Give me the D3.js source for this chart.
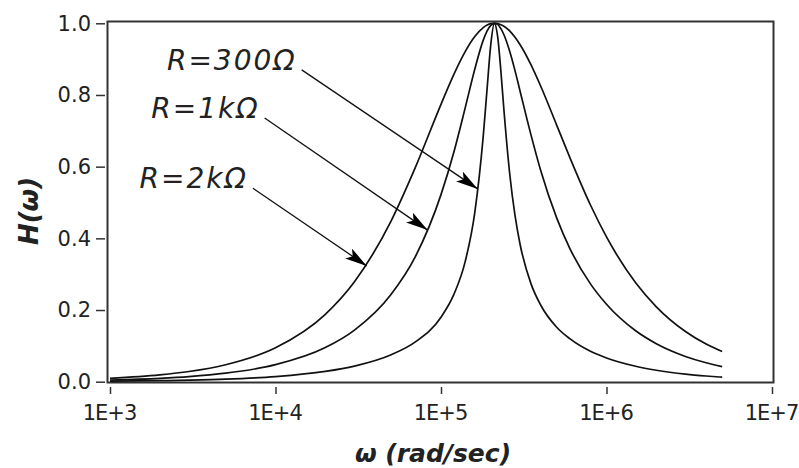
<!DOCTYPE html>
<html>
<head>
<meta charset="utf-8">
<script src="https://cdn.jsdelivr.net/npm/d3@7"></script>
<style>
  body { margin: 0; background: #fff; }
  svg { display: block; }
  text { font-family: "DejaVu Sans", Verdana, sans-serif; fill: #222; }
</style>
</head>
<body>
<div class="container"></div>
<script>
const omega = [1e3, 2e3, 3e3, 5e3, 1e4, 2e4, 3e4, 5e4, 7e4, 1e5, 1.2e5, 1.4e5, 1.6e5, 1.8e5, 1.9e5, 2e5, 2.1e5,
    2.2e5, 2.3e5, 2.4e5, 2.6e5, 2.8e5, 3e5, 3.5e5, 4e5, 5e5, 6e5, 8e5, 1e6, 1.5e6, 2e6, 3e6, 4e6, 5e6];

// H(w) for each resistor
const h2k = [0.0095, 0.019, 0.0284, 0.0474, 0.0946, 0.188, 0.279, 0.449, 0.598, 0.774, 0.859, 0.921, 0.963, 0.988, 0.995, 0.999, 1.0,
    0.999, 0.996, 0.992, 0.979, 0.961, 0.941, 0.884, 0.825, 0.716, 0.626, 0.493, 0.404, 0.276, 0.209, 0.140, 0.105, 0.084];
const h1k = [0.0047, 0.0095, 0.0142, 0.0237, 0.0475, 0.0952, 0.144, 0.244, 0.349, 0.522, 0.643, 0.764, 0.872, 0.953, 0.979, 0.994, 1.0,
    0.997, 0.985, 0.968, 0.922, 0.868, 0.812, 0.688, 0.590, 0.457, 0.372, 0.273, 0.216, 0.142, 0.106, 0.0705, 0.0528, 0.0422];
const h300 = [0.0014, 0.0028, 0.0043, 0.0071, 0.0143, 0.0287, 0.0435, 0.0751, 0.111, 0.180, 0.245, 0.335, 0.472, 0.685, 0.819, 0.942, 1.0,
    0.963, 0.867, 0.758, 0.581, 0.464, 0.385, 0.273, 0.214, 0.152, 0.120, 0.0847, 0.0661, 0.043, 0.032, 0.0212, 0.0159, 0.0127];

const seriesData = [h2k, h1k, h300];

// annotations: label, arrow tail and arrow tip (w, H)
const annLabels = ['R=300Ω', 'R=1kΩ', 'R=2kΩ'];
const annTail = [[1.44e4, 0.870], [8.6e3, 0.736], [7.3e3, 0.540]];
const annTip = [[1.667e5, 0.538], [8.3e4, 0.423], [3.56e4, 0.323]];

const xTicks = [1e3, 1e4, 1e5, 1e6, 1e7];
const yTicks = [0, 0.2, 0.4, 0.6, 0.8, 1.0];

const width = 799, height = 468;

const svg = d3.select('.container')
    .append('svg')
    .attr('width', width)
    .attr('height', height);

const x = d3.scaleLog().domain([1e3, 1e7]).range([110, 772]);
const y = d3.scaleLinear().domain([0, 1]).range([381.7, 23.3]);

// frame
svg.append('rect')
    .attr('x', 107.5).attr('y', 21.5)
    .attr('width', 666).attr('height', 361)
    .attr('fill', 'none')
    .attr('stroke', '#333')
    .attr('stroke-width', 2);

// axes
const yAxis = svg.append('g')
    .attr('transform', 'translate(105,0)')
    .call(d3.axisLeft(y).tickValues(yTicks).tickFormat(d3.format('.1f')).tickSize(9).tickPadding(5));

const xAxis = svg.append('g')
    .attr('transform', 'translate(0,387)')
    .call(d3.axisBottom(x).tickValues(xTicks).tickFormat(d => '1E+' + Math.round(Math.log10(d))).tickSize(7).tickPadding(11));

[yAxis, xAxis].forEach(g => {
    g.select('.domain').remove();
    g.selectAll('line').attr('stroke', '#333').attr('stroke-width', 1.5);
    g.selectAll('text')
        .style('font-family', '"DejaVu Sans", Verdana, sans-serif')
        .style('font-size', '21px')
        .attr('fill', '#222');
});
xAxis.selectAll('text')
    .style('letter-spacing', '-1px')
    .attr('dx', '-1');

// curves
const line = d3.line()
    .x((d, i) => x(omega[i]))
    .y(d => y(d))
    .curve(d3.curveMonotoneX);

svg.selectAll('path.curve')
    .data(seriesData)
    .enter()
    .append('path')
    .attr('class', 'curve')
    .attr('d', line)
    .attr('fill', 'none')
    .attr('stroke', '#111')
    .attr('stroke-width', 1.7);

// arrows
svg.append('defs').append('marker')
    .attr('id', 'head')
    .attr('markerUnits', 'userSpaceOnUse')
    .attr('viewBox', '0 0 22 12')
    .attr('refX', 22).attr('refY', 6)
    .attr('markerWidth', 22).attr('markerHeight', 12)
    .attr('orient', 'auto')
    .append('path')
    .attr('d', 'M0,0 L22,6 L0,12 L5,6 Z')
    .attr('fill', '#000');

const ann = svg.selectAll('g.ann')
    .data(annLabels)
    .enter()
    .append('g')
    .attr('class', 'ann');

ann.append('line')
    .attr('x1', (d, i) => x(annTail[i][0]))
    .attr('y1', (d, i) => y(annTail[i][1]))
    .attr('x2', (d, i) => x(annTip[i][0]))
    .attr('y2', (d, i) => y(annTip[i][1]))
    .attr('stroke', '#111')
    .attr('stroke-width', 1.3)
    .attr('marker-end', 'url(#head)');

ann.append('text')
    .attr('x', (d, i) => x(annTail[i][0]) - 5)
    .attr('y', (d, i) => y(annTail[i][1]))
    .attr('text-anchor', 'end')
    .style('font-size', '28px')
    .style('font-style', 'italic')
    .style('letter-spacing', '2px')
    .text(d => d);

// axis titles
svg.append('text')
    .attr('x', 433).attr('y', 462)
    .attr('text-anchor', 'middle')
    .style('font-size', '25px')
    .style('font-weight', 'bold')
    .style('font-style', 'italic')
    .text('ω (rad/sec)');

svg.append('text')
    .attr('transform', 'translate(38,211) rotate(-90)')
    .attr('text-anchor', 'middle')
    .style('font-size', '26px')
    .style('font-weight', 'bold')
    .style('font-style', 'italic')
    .text('H(ω)');
</script>
</body>
</html>
